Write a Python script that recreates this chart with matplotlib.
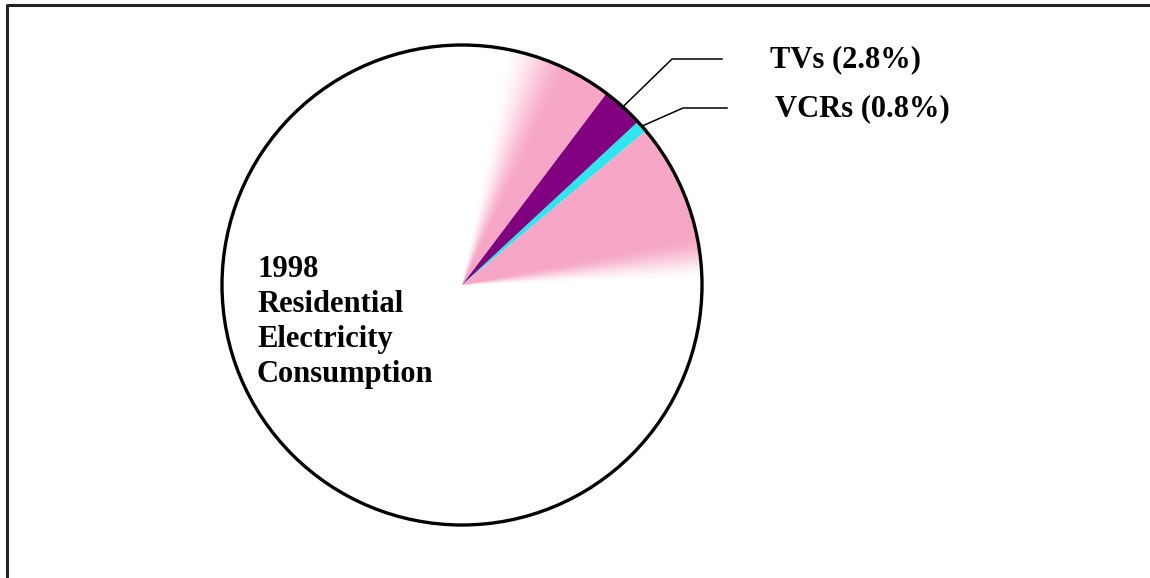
import numpy as np
import matplotlib.pyplot as plt
from matplotlib.patches import Circle

plt.rcParams['font.family'] = ['Liberation Serif', 'DejaVu Serif']

# share of 1998 residential electricity use (%)
items = ["VCRs", "TVs"]
shares = [0.8, 2.8]
rest = 100 - sum(shares)
labels = ["VCRs (0.8%)", "TVs (2.8%)"]
colors = ["#2EE6EE", "#800080"]
pink = "#F7A6C6"

fig = plt.figure(figsize=(11.5, 5.78), dpi=100)
ax = fig.add_axes([0, 0, 1, 1])

cx, cy, r = 462, 293, 240

wedges, _ = ax.pie(shares + [rest], colors=colors + ["white"], startangle=40,
                   counterclock=True, center=(cx, cy), radius=r,
                   wedgeprops=dict(linewidth=0), frame=True)
wedges[-1].set_zorder(1)
for w in wedges[:-1]:
    w.set_zorder(3)

# pink glow on both sides of the highlighted slices
t_low = wedges[0].theta1
t_high = wedges[1].theta2
n = 700
xs = np.linspace(cx - r, cx + r, n)
ys = np.linspace(cy - r, cy + r, n)
X, Y = np.meshgrid(xs, ys)
th = np.degrees(np.arctan2(Y - cy, X - cx))


def smooth(v):
    v = np.clip(v, 0, 1)
    return v * v * (3 - 2 * v)


up_edge = t_high + 27
lo_edge = t_low - 39
alpha = np.zeros_like(X)
m_up = (th >= t_high) & (th <= up_edge)
alpha[m_up] = smooth((up_edge - th[m_up]) / 17)
m_lo = (th <= t_low) & (th >= lo_edge)
alpha[m_lo] = smooth((th[m_lo] - lo_edge) / 11)

rgba = np.zeros((n, n, 4))
rgb = plt.matplotlib.colors.to_rgb(pink)
rgba[..., 0], rgba[..., 1], rgba[..., 2] = rgb
rgba[..., 3] = alpha
img = ax.imshow(rgba, extent=(cx - r, cx + r, cy - r, cy + r), origin='lower',
                zorder=2, interpolation='bilinear')
clip = Circle((cx, cy), r, transform=ax.transData)
img.set_clip_path(clip)

ax.add_patch(Circle((cx, cy), r, fill=False, ec='black', lw=2.4, zorder=4))

# leader lines and labels
elbows = [(683, 470), (672, 519)]
ends = [727, 722]
text_x = [775, 770]
for w, lab, (ex, ey), end, tx in zip(wedges[:-1], labels, elbows, ends, text_x):
    mid = np.radians((w.theta1 + w.theta2) / 2)
    px, py = cx + r * np.cos(mid), cy + r * np.sin(mid)
    ax.plot([px, ex, end], [py, ey, ey], color='black', lw=1.1, zorder=5)
    ax.text(tx, ey - 1, lab, fontsize=22, fontweight='bold', va='center', ha='left')

ax.text(257, 323, "1998\nResidential\nElectricity\nConsumption", fontsize=22,
        fontweight='bold', va='top', ha='left', linespacing=1.27)

# frame
ax.plot([7, 7, 1150], [0, 573, 573], color='#222222', lw=2.2, zorder=6)

ax.set_xlim(0, 1150)
ax.set_ylim(0, 578)
ax.set_aspect('equal')
ax.axis('off')

fig.savefig("out.png", dpi=100)
